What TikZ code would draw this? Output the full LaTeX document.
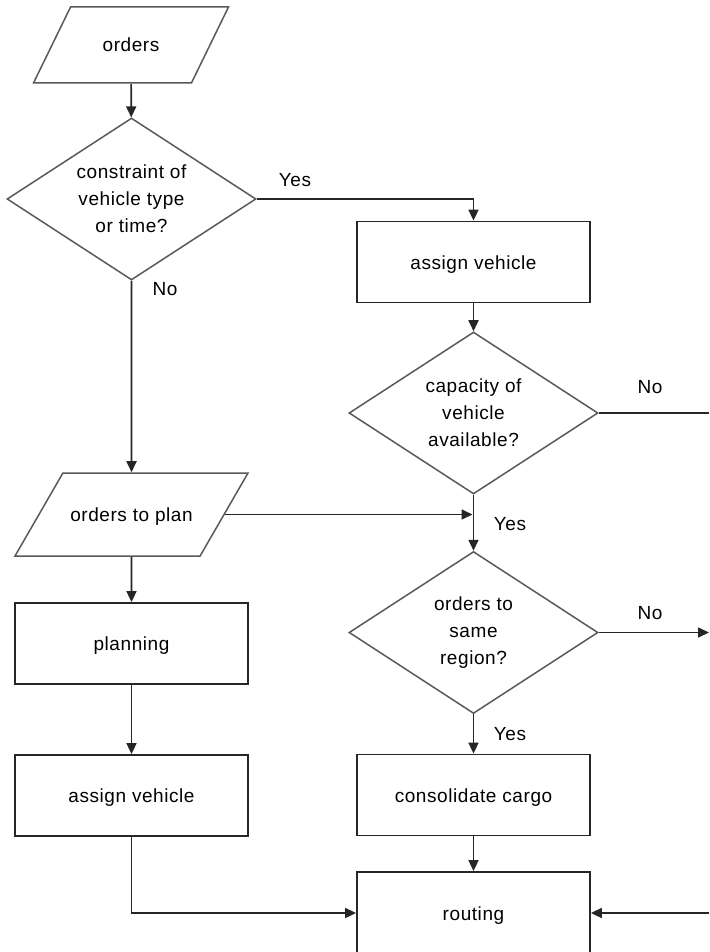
\documentclass[tikz,border=0pt]{standalone}
\usepackage{fontspec}
\setmainfont{Liberation Sans}[LetterSpace=3]
\usetikzlibrary{shapes.geometric,arrows.meta}
\begin{document}
\begin{tikzpicture}[x=1pt,y=-1pt,
    font=\fontsize{19}{27}\selectfont,
    box/.style={draw=black!85, line width=1.8pt, minimum width=233pt, minimum height=81pt, inner sep=0pt, text height=16pt, text depth=2pt},
    decision/.style={diamond, draw=black!65, line width=1.5pt, minimum width=249pt, minimum height=162pt, aspect=1.54, inner sep=0pt, align=center},
    data/.style={trapezium, trapezium stretches body=true, draw=black!65, line width=1.5pt, inner xsep=2pt, text height=16pt, text depth=2pt},
    flow/.style={draw=black!85, line width=1.7pt},
    arr/.style={flow, -{Triangle[length=11pt,width=10pt]}}]

                \useasboundingbox (0,0) rectangle (709,952);
                \clip (0,0) rectangle (709,952);

                \node [data, trapezium left angle=64, trapezium right angle=116, minimum width=195pt, inner ysep=29pt] (orders) at (131,45) {orders};
                \node [decision] (constr) at (131.5,199) {constraint of\\vehicle type\\or time?};
                \node [box] (assignR) at (473.5,262) {assign vehicle};
                \node [decision] (capac) at (473.5,413) {capacity of\\vehicle\\available?};
                \node [decision] (region) at (473.5,632.5) {orders to\\same\\region?};
                \node [box] (consol) at (473.5,795) {consolidate cargo};
                \node [box, minimum height=82pt] (routing) at (473.5,913) {routing};

                \node [data, trapezium left angle=60, trapezium right angle=120, minimum width=233pt, inner ysep=32.5pt] (toplan) at (131.5,514.5) {orders to plan};
                \node [box] (planning) at (131.5,643.5) {planning};
                \node [box] (assignL) at (131.5,795.5) {assign vehicle};

                \coordinate (edgeA) at (709,413);
                \coordinate (edgeB) at (709,632.5);
                \coordinate (edgeC) at (709,913);

                \draw [arr] (orders) -- (constr);
                \draw [arr] (constr.east) -| (assignR);
                \draw [arr] (constr.south) -- (toplan.north);
                \draw [arr] (assignR) -- (capac);
                \draw [arr] (capac) -- (region);
                \draw [arr, shorten >=1pt] (toplan.east) -- (toplan.east -| capac.south);
                \draw [arr] (region) -- (consol);
                \draw [arr] (consol) -- (routing);
                \draw [arr] (toplan) -- (planning);
                \draw [arr] (planning) -- (assignL);
                \draw [arr] (assignL) |- (routing);
                \draw [flow] (capac.east) -- (edgeA);
                \draw [arr] (region.east) -- (edgeB);
                \draw [arr] (edgeC) -- (routing);

                \node (yesA) at (295,180) {Yes};
                \node (noA) at (165,289) {No};
                \node (noB) at (650,387) {No};
                \node (yesB) at (510,524) {Yes};
                \node (noC) at (650,613) {No};
                \node (yesC) at (510,734) {Yes};

            \end{tikzpicture}
\end{document}
